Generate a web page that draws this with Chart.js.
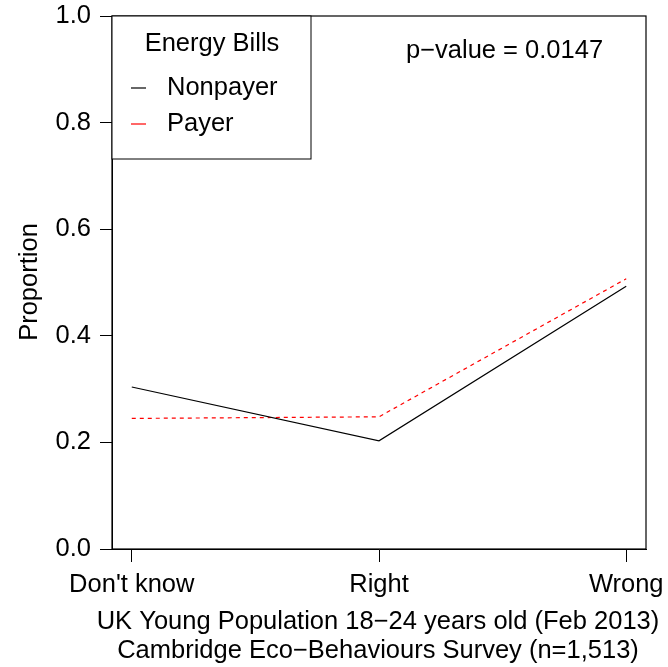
<!DOCTYPE html>
<html>
<head>
<meta charset="utf-8">
<script src="https://cdn.jsdelivr.net/npm/chart.js@4"></script>
<style>
  html, body { margin: 0; padding: 0; background: #fff; }
  #wrap { width: 668px; height: 667px; }
</style>
</head>
<body>
<div id="wrap"><canvas id="c" width="668" height="667"></canvas></div>
<script>
// Answer categories along the x axis (plotted at positions 1, 2, 3)
const categories = ["Don't know", "Right", "Wrong"];
const categoryPositions = [1, 2, 3];
// Proportion of answers per group
const nonpayer = [0.304, 0.203, 0.493];
const payer = [0.245, 0.248, 0.507];
const yTicks = [0.0, 0.2, 0.4, 0.6, 0.8, 1.0];
const legendTitle = 'Energy Bills';
const seriesNames = ['Nonpayer', 'Payer'];
const pValueText = 'p\u2212value = 0.0147';
const captionLines = [
  'UK Young Population 18\u221224 years old (Feb 2013)',
  'Cambridge Eco\u2212Behaviours Survey (n=1,513)'
];

const FONT = '"Liberation Sans", Arial, Helvetica, sans-serif';
const FS = 25.5;

const toPoints = vals => vals.map((v, i) => ({ x: categoryPositions[i], y: v }));

// Box, legend, annotation and captions drawn on top of the chart area
const decorations = {
  id: 'decorations',
  afterDraw(chart) {
    const ctx = chart.ctx;
    const a = chart.chartArea;
    ctx.save();
    // plot frame
    ctx.strokeStyle = '#000';
    ctx.lineWidth = 1.2;
    ctx.strokeRect(a.left, a.top, a.right - a.left, a.bottom - a.top);

    // legend box
    const lx = a.left, ly = a.top, lw = 199, lh = 143;
    ctx.fillStyle = '#fff';
    ctx.fillRect(lx, ly, lw, lh);
    ctx.lineWidth = 1;
    ctx.strokeRect(lx, ly, lw, lh);
    ctx.fillStyle = '#000';
    ctx.font = FS + 'px ' + FONT;
    ctx.textBaseline = 'middle';
    ctx.textAlign = 'center';
    ctx.fillText(legendTitle, lx + lw / 2 + 0.5, ly + 28);
    ctx.textAlign = 'left';
    const rows = [
      { name: seriesNames[0], color: '#000', y: ly + 72 },
      { name: seriesNames[1], color: '#ff0000', y: ly + 108 }
    ];
    rows.forEach(r => {
      ctx.beginPath();
      ctx.strokeStyle = r.color;
      ctx.lineWidth = 1.2;
      ctx.moveTo(lx + 19, r.y);
      ctx.lineTo(lx + 34, r.y);
      ctx.stroke();
      ctx.fillStyle = '#000';
      ctx.fillText(r.name, lx + 55, r.y);
    });

    // p-value annotation
    ctx.textAlign = 'left';
    ctx.fillText(pValueText, 406, 51);

    // y axis title
    ctx.save();
    ctx.translate(30, 282);
    ctx.rotate(-Math.PI / 2);
    ctx.textAlign = 'center';
    ctx.fillText('Proportion', 0, 0);
    ctx.restore();

    // captions under the x axis
    ctx.textAlign = 'center';
    ctx.fillText(captionLines[0], 378, 622);
    ctx.fillText(captionLines[1], 378, 651);
    ctx.restore();
  }
};

new Chart(document.getElementById('c'), {
  type: 'line',
  data: {
    datasets: [
      {
        label: seriesNames[0],
        data: toPoints(nonpayer),
        borderColor: '#000',
        borderWidth: 1.2,
        pointRadius: 0,
        tension: 0,
        fill: false
      },
      {
        label: seriesNames[1],
        data: toPoints(payer),
        borderColor: '#ff0000',
        borderWidth: 1.2,
        borderDash: [4, 4],
        pointRadius: 0,
        tension: 0,
        fill: false
      }
    ]
  },
  options: {
    responsive: false,
    animation: false,
    devicePixelRatio: 1,
    layout: { padding: { top: 16, right: 22, left: 0, bottom: 0 } },
    plugins: {
      legend: { display: false },
      tooltip: { enabled: false },
      title: { display: false }
    },
    scales: {
      x: {
        type: 'linear',
        min: 0.92,
        max: 3.08,
        afterBuildTicks: scale => { scale.ticks = categoryPositions.map(v => ({ value: v })); },
        afterFit: scale => {
          scale.height = 118;
          scale.paddingLeft = 0;
          scale.paddingRight = 0;
        },
        grid: { drawOnChartArea: false, drawTicks: true, tickLength: 13, color: '#000', lineWidth: 1 },
        border: { display: true, color: '#000', width: 1 },
        ticks: {
          color: '#000',
          font: { family: FONT, size: FS },
          padding: 8,
          maxRotation: 0,
          autoSkip: false,
          callback: v => categories[categoryPositions.indexOf(v)] ?? ''
        }
      },
      y: {
        min: 0,
        max: 1,
        afterBuildTicks: scale => { scale.ticks = yTicks.map(v => ({ value: v })); },
        afterFit: scale => {
          scale.width = 112;
          scale.paddingTop = 0;
          scale.paddingBottom = 0;
        },
        grid: { drawOnChartArea: false, drawTicks: true, tickLength: 12, color: '#000', lineWidth: 1 },
        border: { display: true, color: '#000', width: 1 },
        ticks: {
          color: '#000',
          font: { family: FONT, size: FS },
          padding: 9,
          callback: v => v.toFixed(1)
        }
      }
    }
  },
  plugins: [decorations]
});
</script>
</body>
</html>
